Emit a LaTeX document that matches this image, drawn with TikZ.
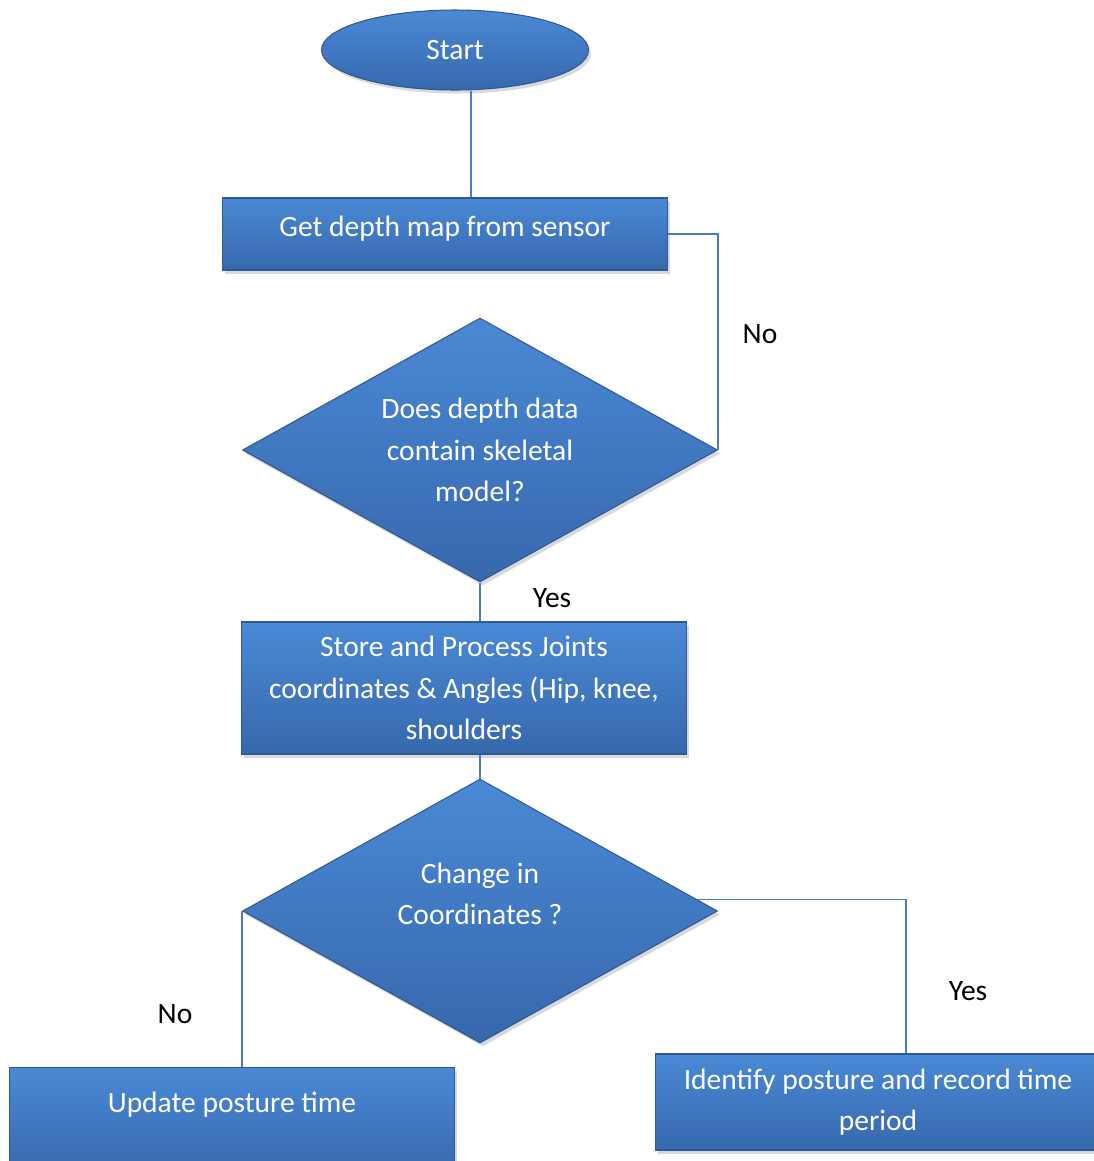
\documentclass[tikz,border=0pt]{standalone}
\usepackage{fontspec}
\setmainfont{Carlito}
\usetikzlibrary{shapes.geometric,shadows}
\definecolor{flowtop}{RGB}{74,137,214}
\definecolor{flowbot}{RGB}{55,104,172}
\definecolor{flowedge}{RGB}{47,88,148}
\definecolor{linkblue}{RGB}{74,126,187}
\begin{document}
\begin{tikzpicture}[
  x=0.02cm, y=-0.02cm,
  every node/.style={font=\fontsize{16.8}{23.5}\selectfont},
  flowfill/.style={top color=flowtop, bottom color=flowbot, draw=flowedge, line width=0.6pt,
    text=white, align=center, inner sep=0pt,
    drop shadow={opacity=0.3, shadow xshift=1.5pt, shadow yshift=-2pt}},
  startnode/.style={flowfill, ellipse, minimum width=5.34cm, minimum height=1.6cm},
  procbox/.style={flowfill, rectangle, minimum width=8.9cm},
  decision/.style={flowfill, diamond, aspect=1.8, minimum width=9.5cm, minimum height=5.28cm},
  link/.style={draw=linkblue, line width=1pt},
  lbl/.style={text=black}
]
\useasboundingbox (0,0) rectangle (1094,1161);
\node[startnode] (start) at (455,50) {Start};
\node[procbox, minimum height=1.44cm] (depth) at (445,234) {Get depth map from sensor\\[-22pt]\strut};
\node[decision] (skel) at (480,450) {Does depth data\\contain skeletal\\model?};
\node[procbox, minimum height=2.64cm] (store) at (464,688)
  {Store and Process Joints\\coordinates \& Angles (Hip, knee,\\shoulders};
\node[decision] (change) at (480,911) {Change in\\Coordinates ?\\[-11pt]\strut};
\node[procbox, minimum height=2.18cm] (upd) at (232,1122) {Update posture time\\[-8pt]\strut};
\node[procbox, minimum height=1.92cm] (ident) at (878,1102) {Identify posture and record time\\period};

\draw[link] ([xshift=0.32cm]start.south) -- ([xshift=0.32cm]start.south |- depth.north);
\draw[link] (depth.east) -| (skel.east);
\draw[link] (skel.south) -- (skel.south |- store.north);
\draw[link] (store.south -| change.north) -- (change.north);
\draw[link] (change.west) -- (change.west |- upd.north);
\draw[link] (change.3) -| ([xshift=0.56cm]ident.north);

\node[lbl] (noskel) at (760,334) {No};
\node[lbl] (yesskel) at (552,598) {Yes};
\node[lbl] (nochange) at (175,1014) {No};
\node[lbl] (yeschange) at (968,991) {Yes};
\end{tikzpicture}
\end{document}
